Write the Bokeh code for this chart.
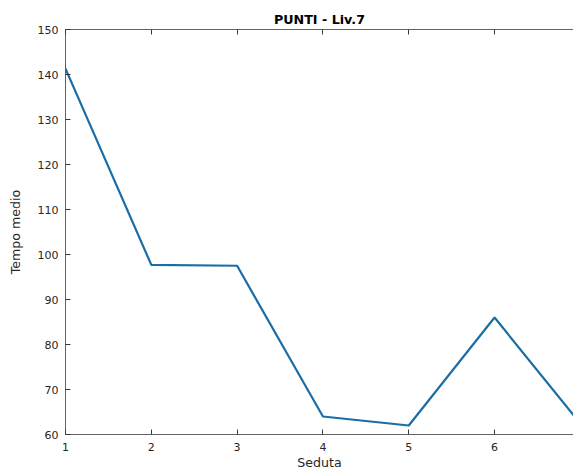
from bokeh.plotting import figure
from bokeh.models import LinearAxis, FixedTicker, Range1d
from bokeh.embed import file_html
from bokeh.resources import INLINE

seduta = [1, 2, 3, 4, 5, 6, 7]
tempo_medio = [141.3, 97.7, 97.5, 64.0, 62.0, 86.0, 62.4]
y_ticks = [60, 70, 80, 90, 100, 110, 120, 130, 140, 150]
x_ticks = [1, 2, 3, 4, 5, 6, 7]

FONT = "DejaVu Sans"
AX = "#3a3a3a"
TXT = "#262626"

p = figure(width=573, height=472, output_backend="svg", toolbar_location=None,
           x_range=Range1d(1, 6.92), y_range=Range1d(60, 150),
           min_border_left=65, min_border_right=0, min_border_top=29, min_border_bottom=38,
           title="PUNTI - Liv.7")
p.outline_line_color = None
p.background_fill_color = "white"
p.border_fill_color = "white"
p.xgrid.visible = False
p.ygrid.visible = False

p.title.align = "center"
p.title.text_font = FONT
p.title.text_font_size = "12.7px"
p.title.text_font_style = "bold"
p.title.text_color = "black"
p.title.offset = 0
p.title.standoff = 5

for ax in (p.xaxis[0], p.yaxis[0]):
    ax.axis_line_color = AX
    ax.axis_line_width = 0.8
    ax.major_tick_line_color = AX
    ax.major_tick_in = 5
    ax.major_tick_out = 0
    ax.minor_tick_line_color = None
    ax.major_label_text_font = FONT
    ax.major_label_text_font_size = "11px"
    ax.major_label_text_color = TXT
    ax.axis_label_text_font = FONT
    ax.axis_label_text_font_size = "12.6px"
    ax.axis_label_text_font_style = "normal"
    ax.axis_label_text_color = TXT

p.xaxis[0].ticker = FixedTicker(ticks=x_ticks)
p.yaxis[0].ticker = FixedTicker(ticks=y_ticks)
p.xaxis[0].axis_label = "Seduta"
p.yaxis[0].axis_label = "Tempo medio"
p.xaxis[0].major_label_standoff = 8
p.yaxis[0].major_label_standoff = 7
p.xaxis[0].axis_label_standoff = 1
p.yaxis[0].axis_label_standoff = 12

top = LinearAxis(ticker=FixedTicker(ticks=x_ticks), axis_line_color=AX, axis_line_width=0.8,
                 major_tick_line_color=AX, major_tick_in=5, major_tick_out=0,
                 minor_tick_line_color=None, major_label_text_font_size="0px")
top.major_label_text_alpha = 0
p.add_layout(top, "above")

p.line(seduta, tempo_medio, line_color="#1a6ea6", line_width=2.2)

open("out.html", "w").write(file_html(p, INLINE))
